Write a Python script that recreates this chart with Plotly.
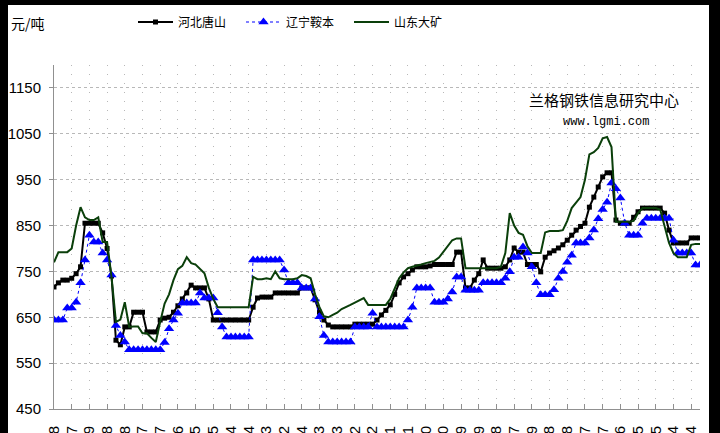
import plotly.graph_objects as go

# ---------------- data ----------------
tick_labels = ["2008-05-28","2008-07-07","2008-08-19","2008-09-28","2008-11-08","2008-12-17",
               "2009-01-27","2009-03-06","2009-04-15","2009-05-25","2009-07-04","2009-08-14",
               "2009-09-23","2009-11-02","2009-12-14","2010-01-23","2010-03-03","2010-04-12",
               "2010-05-22","2010-07-01","2010-08-11","2010-09-20","2010-10-30","2010-12-09",
               "2011-01-19","2011-02-28","2011-04-07","2011-05-19","2011-06-28","2011-08-08",
               "2011-09-17","2011-10-27","2011-12-06","2012-01-15","2012-02-25","2012-04-04",
               "2012-05-14"]
points_per_label = 4

hebei_tangshan = [
    716, 725, 731, 731, 735, 745, 760, 855, 855, 855,
    855, 834, 800, 740, 600, 590, 629, 629, 661, 661,
    661, 618, 618, 618, 644, 648, 650, 661, 675, 690,
    703, 720, 714, 714, 714, 690, 644, 644, 644, 644,
    644, 644, 644, 644, 644, 672, 692, 694, 694, 694,
    703, 703, 703, 703, 703, 703, 714, 714, 714, 688,
    661, 644, 633, 629, 629, 629, 629, 629, 635, 635,
    635, 635, 635, 644, 655, 665, 677, 700, 725, 738,
    745, 753, 760, 760, 760, 762, 765, 765, 765, 765,
    765, 792, 792, 714, 714, 731, 745, 775, 757, 757,
    757, 757, 760, 775, 801, 792, 792, 765, 765, 765,
    749, 781, 790, 795, 801, 808, 818, 829, 840, 848,
    855, 890, 912, 934, 956, 965, 965, 862, 855, 855,
    855, 868, 880, 888, 888, 888, 888, 888, 877, 840,
    812, 812, 812, 812, 823, 823, 823]

liaoning_anben = [
    644, 644, 644, 670, 670, 683, 725, 775, 829, 814,
    814, 790, 775, 742, 632, 610, 596, 579, 579, 579,
    579, 579, 579, 579, 579, 595, 625, 644, 659, 681,
    681, 681, 681, 703, 692, 692, 692, 660, 629, 607,
    607, 607, 607, 607, 607, 775, 775, 775, 775, 775,
    775, 775, 753, 725, 725, 725, 714, 714, 714, 690,
    651, 610, 596, 596, 596, 596, 596, 596, 629, 629,
    629, 629, 659, 629, 629, 629, 629, 629, 629, 629,
    644, 672, 714, 714, 714, 714, 683, 683, 683, 690,
    705, 738, 738, 709, 709, 709, 709, 725, 725, 725,
    725, 725, 735, 749, 781, 781, 803, 790, 760, 725,
    699, 699, 699, 710, 735, 750, 770, 785, 812, 812,
    812, 823, 840, 865, 885, 901, 943, 930, 910, 855,
    829, 829, 829, 855, 866, 866, 866, 866, 866, 866,
    818, 790, 790, 790, 790, 764, 764]

shandong_mine = [
    770, 792, 792, 792, 800, 850, 890, 868, 862, 862,
    868, 814, 814, 738, 640, 645, 683, 629, 630, 630,
    615, 615, 605, 596, 640, 680, 700, 731, 755, 762,
    781, 768, 765, 755, 746, 714, 690, 672, 672, 672,
    672, 672, 672, 672, 672, 738, 733, 733, 735, 733,
    750, 735, 733, 733, 733, 735, 742, 740, 735, 700,
    672, 652, 650, 655, 660, 668, 672, 677, 682, 687,
    692, 677, 677, 677, 677, 677, 690, 712, 735, 748,
    757, 760, 762, 765, 768, 770, 773, 780, 792, 805,
    818, 822, 822, 757, 757, 757, 757, 757, 757, 757,
    757, 760, 790, 877, 850, 834, 830, 805, 790, 790,
    790, 835, 838, 838, 838, 840, 860, 888, 900, 912,
    950, 1005, 1010, 1019, 1040, 1043, 1021, 858, 858, 858,
    858, 860, 877, 888, 888, 888, 888, 885, 847, 812,
    790, 781, 781, 781, 808, 810, 810]

series_names = ["河北唐山", "辽宁鞍本", "山东大矿"]
y_ticks = [450, 550, 650, 750, 850, 950, 1050, 1150]

# ---------------- figure ----------------
x = list(range(len(hebei_tangshan)))
tick_vals = [i * points_per_label for i in range(len(tick_labels))]

W, H = 720, 433
ML, MR, MT, MB = 54, 20, 65, 24
PW, PH = W - ML - MR, H - MT - MB


def px_x(p):
    return (p - ML) / PW


def px_y(p):
    return (H - MB - p) / PH


cjk = "Noto Sans CJK SC, sans-serif"

fig = go.Figure()
fig.add_trace(go.Scatter(
    x=x, y=hebei_tangshan, name=series_names[0], mode="lines+markers",
    line=dict(color="black", width=2),
    marker=dict(symbol="square", size=5, color="black"),
))
fig.add_trace(go.Scatter(
    x=x, y=liaoning_anben, name=series_names[1], mode="lines+markers",
    line=dict(color="#0000ff", width=1, dash="dot"),
    marker=dict(symbol="triangle-up", size=9, color="#0000ff"),
))
fig.add_trace(go.Scatter(
    x=x, y=shandong_mine, name=series_names[2], mode="lines",
    line=dict(color="#0a3f0a", width=2),
))

fig.update_xaxes(
    range=[0, len(x) - 1],
    tickmode="array", tickvals=tick_vals, ticktext=tick_labels,
    tickangle=-90, ticks="inside", ticklen=5, tickcolor="#909090",
    ticklabelstandoff=10,
    showline=True, linecolor="#909090", linewidth=1,
    showgrid=True, gridcolor="#b8b8b8", griddash="1px,8px", gridwidth=1,
    tickfont=dict(family="Liberation Sans, sans-serif", size=15, color="black"),
    zeroline=False, fixedrange=True,
)
fig.update_yaxes(
    range=[450, 1200],
    tickmode="array", tickvals=y_ticks,
    ticks="outside", ticklen=4, tickcolor="#909090",
    ticklabelstandoff=5,
    showline=True, linecolor="#909090", linewidth=1,
    showgrid=True, gridcolor="#b8b8b8", griddash="3px,3px", gridwidth=1,
    tickfont=dict(family="Liberation Sans, sans-serif", size=15, color="black"),
    zeroline=False, fixedrange=True,
)

shapes = [
    dict(type="rect", xref="paper", yref="paper", x0=px_x(-20), x1=px_x(8),
         y0=px_y(H + 20), y1=px_y(-20), fillcolor="black", line_width=0, layer="above"),
    dict(type="rect", xref="paper", yref="paper", x0=px_x(-20), x1=px_x(W + 20),
         y0=px_y(5), y1=px_y(-20), fillcolor="black", line_width=0, layer="above"),
    dict(type="rect", xref="paper", yref="paper", x0=px_x(709), x1=px_x(W + 20),
         y0=px_y(H + 20), y1=px_y(-20), fillcolor="black", line_width=0, layer="above"),
]

annotations = [
    dict(text="元/吨", xref="paper", yref="paper", x=px_x(9), y=px_y(23),
         xanchor="left", yanchor="middle", showarrow=False,
         font=dict(family=cjk, size=14, color="black")),
    dict(text="兰格钢铁信息研究中心", xref="paper", yref="paper", x=px_x(604), y=px_y(100),
         xanchor="center", yanchor="middle", showarrow=False,
         font=dict(family=cjk, size=15, color="black")),
    dict(text="www.lgmi.com", xref="paper", yref="paper", x=px_x(606), y=px_y(122),
         xanchor="center", yanchor="middle", showarrow=False,
         font=dict(family="Liberation Mono, DejaVu Sans Mono, monospace", size=12, color="black")),
]

fig.update_layout(
    width=W, height=H,
    margin=dict(l=ML, r=MR, t=MT, b=MB, autoexpand=False),
    paper_bgcolor="white", plot_bgcolor="white",
    showlegend=True,
    legend=dict(orientation="h", x=px_x(133), y=px_y(22), xanchor="left", yanchor="middle",
                font=dict(family=cjk, size=12, color="black"),
                bgcolor="rgba(0,0,0,0)", entrywidth=58, entrywidthmode="pixels",
                itemwidth=35, tracegroupgap=0),
    shapes=shapes, annotations=annotations,
)

fig.write_html(
    "out.html",
    config={"displayModeBar": False, "staticPlot": True},
    post_script="document.body.style.margin='0';document.body.style.background='black';",
)
